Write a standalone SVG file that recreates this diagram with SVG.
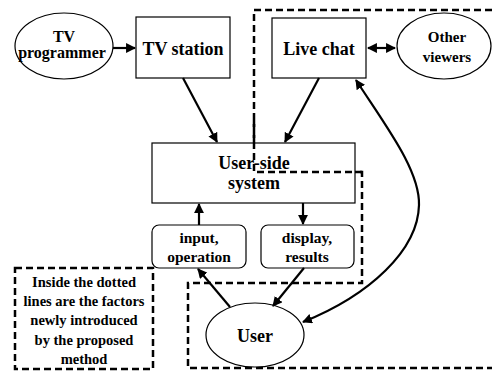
<svg xmlns="http://www.w3.org/2000/svg" width="492" height="372" viewBox="0 0 492 372">
  <!-- TV viewing system: programmer, station, live chat and user-side loop -->
  <style>
    .box { fill: #fff; stroke: #000; stroke-width: 1.2; }
    .conn { fill: none; stroke: #000; stroke-width: 2.2; }
    .dash { fill: none; stroke: #000; stroke-width: 2.5; stroke-dasharray: 7 4; }
  </style>
  <defs>
    <marker id="arrow" viewBox="0 0 10 10" refX="9" refY="5" markerWidth="4.5" markerHeight="4.5" orient="auto-start-reverse" markerUnits="strokeWidth">
      <path d="M0,0 L10,5 L0,10 z" fill="#000"/>
    </marker>
  </defs>
  <rect width="492" height="372" fill="#fff"/>

  <!-- region of newly introduced factors -->
  <path class="dash" d="M492,10 H254 V172 H362 V283 H188 V368 H492"/>

  <g id="tv-programmer">
    <ellipse class="box" cx="64" cy="46" rx="49" ry="33"/>
    <text x="64" y="42" font-family="Liberation Serif" font-weight="bold" font-size="16" text-anchor="middle">TV</text>
    <text x="62" y="58" font-family="Liberation Serif" font-weight="bold" font-size="16" text-anchor="middle">programmer</text>
  </g>

  <g id="tv-station">
    <rect class="box" x="136" y="17" width="94" height="61"/>
    <text x="183" y="55" font-family="Liberation Serif" font-weight="bold" font-size="18" text-anchor="middle">TV station</text>
  </g>

  <g id="live-chat">
    <rect class="box" x="272" y="18" width="94" height="60"/>
    <text x="319" y="55" font-family="Liberation Serif" font-weight="bold" font-size="18" text-anchor="middle">Live chat</text>
  </g>

  <g id="other-viewers">
    <ellipse class="box" cx="444" cy="46" rx="47" ry="33"/>
    <text x="447" y="42" font-family="Liberation Serif" font-weight="bold" font-size="15" text-anchor="middle">Other</text>
    <text x="447" y="62" font-family="Liberation Serif" font-weight="bold" font-size="15" text-anchor="middle">viewers</text>
  </g>

  <g id="user-side-system">
    <rect class="box" x="152" y="143" width="203" height="60"/>
    <text x="254" y="169" font-family="Liberation Serif" font-weight="bold" font-size="18" text-anchor="middle">User-side</text>
    <text x="254" y="189" font-family="Liberation Serif" font-weight="bold" font-size="18" text-anchor="middle">system</text>
  </g>

  <!-- dashed segment drawn over the system box -->
  <path class="dash" d="M254,120 V172 H362"/>

  <g id="input-operation">
    <rect class="box" x="152" y="225" width="94" height="43" rx="7"/>
    <text x="199" y="243" font-family="Liberation Serif" font-weight="bold" font-size="15.5" text-anchor="middle">input,</text>
    <text x="199" y="262" font-family="Liberation Serif" font-weight="bold" font-size="15.5" text-anchor="middle">operation</text>
  </g>

  <g id="display-results">
    <rect class="box" x="261" y="225" width="93" height="43" rx="7"/>
    <text x="307" y="243" font-family="Liberation Serif" font-weight="bold" font-size="15.5" text-anchor="middle">display,</text>
    <text x="307" y="262" font-family="Liberation Serif" font-weight="bold" font-size="15.5" text-anchor="middle">results</text>
  </g>

  <g id="user">
    <ellipse class="box" cx="255" cy="335" rx="49" ry="32"/>
    <text x="255" y="342" font-family="Liberation Serif" font-weight="bold" font-size="18" text-anchor="middle">User</text>
  </g>

  <g id="legend">
    <rect class="dash" x="15" y="268" width="138" height="101"/>
    <text x="84" y="287" font-family="Liberation Serif" font-weight="bold" font-size="14.5" text-anchor="middle">Inside the dotted</text>
    <text x="84" y="306" font-family="Liberation Serif" font-weight="bold" font-size="14.5" text-anchor="middle">lines are the factors</text>
    <text x="84" y="325" font-family="Liberation Serif" font-weight="bold" font-size="14.5" text-anchor="middle">newly introduced</text>
    <text x="84" y="345" font-family="Liberation Serif" font-weight="bold" font-size="14.5" text-anchor="middle">by the proposed</text>
    <text x="84" y="364" font-family="Liberation Serif" font-weight="bold" font-size="14.5" text-anchor="middle">method</text>
  </g>

  <g id="connectors">
    <line class="conn" x1="113" y1="48" x2="135" y2="48" marker-end="url(#arrow)"/>
    <line class="conn" x1="368" y1="48" x2="395" y2="48" marker-start="url(#arrow)" marker-end="url(#arrow)"/>
    <line class="conn" x1="183" y1="78" x2="217" y2="142" marker-end="url(#arrow)"/>
    <line class="conn" x1="319" y1="78" x2="285" y2="142" marker-end="url(#arrow)"/>
    <line class="conn" x1="199" y1="225" x2="199" y2="204" marker-end="url(#arrow)"/>
    <line class="conn" x1="303" y1="203" x2="303" y2="224" marker-end="url(#arrow)"/>
    <line class="conn" x1="230" y1="307" x2="198" y2="269" marker-end="url(#arrow)"/>
    <line class="conn" x1="304" y1="268" x2="273" y2="306" marker-end="url(#arrow)"/>
    <path class="conn" d="M356,80 C385,125 420,170 419,205 C418,250 370,295 303,322" marker-start="url(#arrow)" marker-end="url(#arrow)"/>
  </g>
</svg>
